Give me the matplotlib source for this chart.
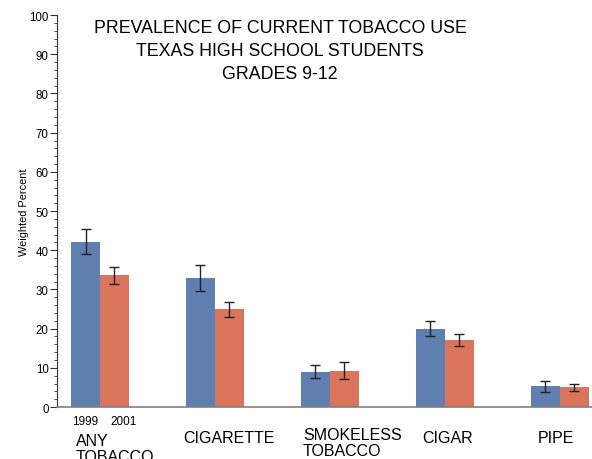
import matplotlib
matplotlib.use("Agg")
import matplotlib.pyplot as plt
import numpy as np
from matplotlib.ticker import MultipleLocator

plt.rcParams["font.family"] = ["Liberation Sans", "DejaVu Sans"]

categories = ["ANY\nTOBACCO", "CIGARETTE", "SMOKELESS\nTOBACCO", "CIGAR", "PIPE"]
years = ["1999", "2001"]
vals_1999 = [42.2, 33.0, 9.0, 20.0, 5.3]
vals_2001 = [33.6, 24.9, 9.3, 17.1, 5.0]
err_1999 = [3.2, 3.3, 1.7, 1.9, 1.4]
err_2001 = [2.2, 2.0, 2.1, 1.6, 1.0]

blue = "#5F7FB0"
orange = "#DA745B"
# placement of each category label relative to its group centre
label_shift = [-0.21, -0.28, -0.235, -0.2, -0.19]
label_drop = [-6.6, -5.8, -5.0, -5.8, -5.8]

fig = plt.figure(figsize=(5.92, 4.6), dpi=100)
ax = fig.add_axes([0.0963, 0.113, 0.9037, 0.852])

x = np.arange(len(categories))
w = 0.252
ax.bar(x - w / 2, vals_1999, width=w, color=blue, zorder=2)
ax.bar(x + w / 2, vals_2001, width=w, color=orange, zorder=2)
ax.errorbar(x - w / 2, vals_1999, yerr=err_1999, fmt="none", ecolor="#222222",
            elinewidth=1, capsize=3.5, capthick=1, zorder=3)
ax.errorbar(x + w / 2, vals_2001, yerr=err_2001, fmt="none", ecolor="#222222",
            elinewidth=1, capsize=3.5, capthick=1, zorder=3)

ax.set_xlim(-0.374, 4.28)
ax.set_ylim(0, 100)
ax.yaxis.set_major_locator(MultipleLocator(10))
ax.yaxis.set_minor_locator(MultipleLocator(2))
ax.tick_params(axis="y", which="major", length=5, labelsize=8.3, pad=1, color="#333333")
ax.tick_params(axis="y", which="minor", length=2.5, color="#333333")
ax.set_xticks([])
for s in ["top", "right"]:
    ax.spines[s].set_visible(False)
ax.spines["left"].set_color("#333333")
ax.spines["bottom"].set_color("#808080")
ax.spines["bottom"].set_linewidth(1.2)

ax.set_ylabel("Weighted Percent", fontsize=7.9)
ax.yaxis.set_label_coords(-0.052, 0.5)

# year labels under the first group
ax.text(0 - w / 2, -2.0, years[0], ha="center", va="top", fontsize=8.5)
ax.text(0 + w / 2 + 0.08, -2.0, years[1], ha="center", va="top", fontsize=8.5)

# category labels
for xi, lab, sh, dy in zip(x, categories, label_shift, label_drop):
    ax.text(xi + sh, dy, lab, ha="left", va="top", fontsize=11.5, linespacing=1.1)

fig.text(0.473, 0.957, "PREVALENCE OF CURRENT TOBACCO USE\nTEXAS HIGH SCHOOL STUDENTS\nGRADES 9-12",
         ha="center", va="top", fontsize=12.8, linespacing=1.46)

fig.savefig("out.png", dpi=100)
